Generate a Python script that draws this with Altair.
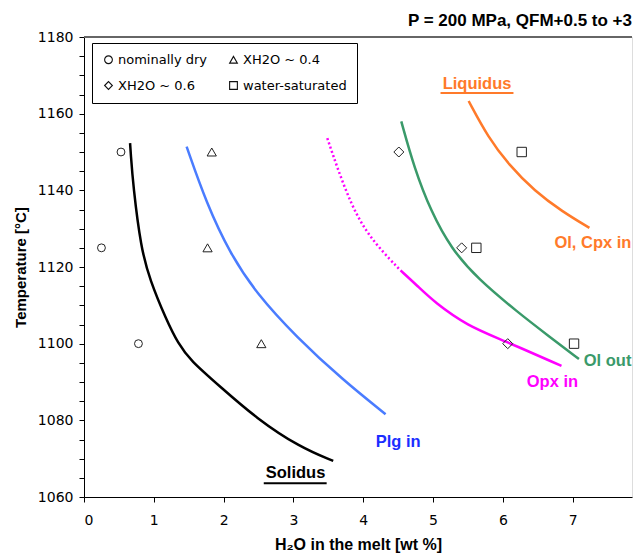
import altair as alt
import pandas as pd

# ---------------- data ----------------
title_text = "P = 200 MPa, QFM+0.5 to +3"

liq_x = [5.51, 5.79, 6.08, 6.46, 6.85, 7.24]
liq_t = [1163.3, 1153.8, 1146.8, 1139.7, 1134.5, 1130.2]

olout_x = [4.545, 4.73, 4.97, 5.26, 5.64, 6.22, 6.655, 7.09]
olout_t = [1158.0, 1145.9, 1134.5, 1124.8, 1116.9, 1108.1, 1102.0, 1096.0]

opx_dot_x = [3.485, 3.76, 4.05, 4.535]
opx_dot_t = [1153.6, 1138.9, 1128.3, 1119.1]
opx_x = [4.535, 4.775, 5.02, 5.50, 5.98, 6.84]
opx_t = [1119.1, 1115.1, 1110.8, 1104.6, 1101.1, 1094.2]

plg_x = [1.47, 1.755, 2.09, 2.47, 3.04, 3.71, 4.32]
plg_t = [1151.4, 1136.6, 1123.6, 1113.1, 1101.8, 1090.5, 1081.6]

sol_x = [0.66, 0.668, 0.705, 0.815, 0.944, 1.18, 1.35, 1.52, 1.95, 2.47, 3.09, 3.57]
sol_t = [1152.3, 1150.0, 1141.0, 1125.0, 1116.6, 1106.2, 1100.0, 1095.7, 1088.8, 1080.5, 1073.0, 1069.4]

series_names = ["nominally dry", "XH2O ~ 0.4", "XH2O ~ 0.6", "water-saturated"]
series_shapes = ["circle", "triangle-up", "diamond", "square"]
series_sizes = [62, 85, 100, 88]
pt_series = ["nominally dry"] * 3 + ["XH2O ~ 0.4"] * 3 + ["XH2O ~ 0.6"] * 3 + ["water-saturated"] * 3
pt_x = [0.53, 0.25, 0.78, 1.83, 1.77, 2.54, 4.51, 5.41, 6.07, 6.27, 5.62, 7.02]
pt_t = [1150, 1125, 1100, 1150, 1125, 1100, 1150, 1125, 1100, 1150, 1125, 1100]

lab_text = ["Liquidus", "Ol, Cpx in", "Ol out", "Opx in", "Plg in", "Solidus"]
lab_x = [5.63, 7.29, 7.50, 6.71, 4.50, 3.03]
lab_t = [1167.8, 1126.3, 1095.6, 1090.1, 1074.4, 1066.3]
lab_color = ["#FF7A2A", "#FF7A2A", "#3A9A6A", "#FF00FF", "#1A2EFF", "#000000"]

ul_x = [5.107, 2.575]
ul_x2 = [6.152, 3.476]
ul_t = [1165.4, 1063.6]
ul_color = ["#FF7A2A", "#000000"]

W, H = 548, 460
xscale = alt.Scale(domain=[0, 7.85], nice=False, zero=False)
yscale = alt.Scale(domain=[1060, 1180], nice=False, zero=False)

xaxis = alt.Axis(values=list(range(0, 8)), title="H₂O in the melt [wt %]", grid=False,
                 tickSize=5, labelPadding=11, labelFont="DejaVu Sans", labelFontSize=14,
                 labelColor="black", titleFont="Liberation Sans", titleFontSize=16,
                 titleFontWeight="bold", titleColor="black", titlePadding=9,
                 domainColor="black", tickColor="black")
yaxis = alt.Axis(values=list(range(1060, 1181, 5)), title="Temperature [°C]", grid=False,
                 format="d",
                 labelExpr="datum.value % 20 == 0 ? datum.label : ''",
                 tickSize=5, labelPadding=6, labelFont="DejaVu Sans", labelFontSize=14,
                 labelColor="black", titleFont="Liberation Sans", titleFontSize=15,
                 titleFontWeight="bold", titleColor="black", titlePadding=9,
                 domainColor="black", tickColor="black")

X = lambda f="x": alt.X(f"{f}:Q", scale=xscale, axis=xaxis)
Y = lambda f="t": alt.Y(f"{f}:Q", scale=yscale, axis=yaxis)


def curve(xs, ts, color, dash=None):
    df = pd.DataFrame({"x": xs, "t": ts})
    kw = dict(color=color, strokeWidth=2.5, interpolate="basis", clip=True)
    if dash:
        kw["strokeDash"] = dash
    return alt.Chart(df).mark_line(**kw).encode(x=X(), y=Y(), order="x:Q")


frame = alt.Chart(pd.DataFrame({"a": [0]})).mark_rule(color="#666666", strokeWidth=2).encode(
    x=alt.value(0), x2=alt.value(W), y=alt.value(0)
)

title = alt.Chart(pd.DataFrame({"a": [0]})).mark_text(
    font="Liberation Sans", fontSize=17, fontWeight="bold", color="black",
    align="right", baseline="alphabetic"
).encode(x=alt.value(W), y=alt.value(-11), text=alt.value(title_text))

layers = [
    curve(sol_x, sol_t, "#000000"),
    curve(plg_x, plg_t, "#4A7CFF"),
    curve(opx_dot_x, opx_dot_t, "#FF00FF", dash=[2, 2.5]),
    curve(opx_x, opx_t, "#FF00FF"),
    curve(olout_x, olout_t, "#3A9A6A"),
    curve(liq_x, liq_t, "#FF7A2A"),
]

legend = alt.Legend(title=None, orient="none", legendX=8, legendY=6,
                    columns=2, direction="horizontal",
                    fillColor="white", strokeColor="black",
                    padding=10, rowPadding=12, columnPadding=19,
                    symbolSize=60, symbolStrokeColor="#111111",
                    symbolFillColor="white", symbolStrokeWidth=1.1,
                    labelFont="DejaVu Sans", labelFontSize=13,
                    labelColor="black", labelOffset=3, labelLimit=0)
shape_scale = alt.Scale(domain=series_names, range=series_shapes)

pts = pd.DataFrame({"series": pt_series, "x": pt_x, "t": pt_t})
marker_layers = []
for name, size in zip(series_names, series_sizes):
    marker_layers.append(
        alt.Chart(pts[pts["series"] == name]).mark_point(
            filled=False, color="#222222", strokeWidth=1, opacity=1, size=size
        ).encode(x=X(), y=Y(), shape=alt.Shape("series:N", scale=shape_scale, legend=legend))
    )

labs = pd.DataFrame({"text": lab_text, "x": lab_x, "t": lab_t, "c": lab_color})
labels = alt.Chart(labs).mark_text(font="Liberation Sans", fontSize=16.5, fontWeight="bold",
                                   align="center", baseline="middle").encode(
    x=X(), y=Y(),
    text="text:N",
    color=alt.Color("c:N", scale=None),
)

uls = pd.DataFrame({"x": ul_x, "x2": ul_x2, "t": ul_t, "c": ul_color})
underlines = alt.Chart(uls).mark_rule(strokeWidth=2).encode(
    x=X(), x2="x2:Q", y=Y(),
    color=alt.Color("c:N", scale=None),
)

chart = alt.layer(*layers, *marker_layers, labels, underlines, frame, title).properties(
    width=W, height=H,
    autosize=alt.AutoSizeParams(type="none"),
    padding={"left": 76, "top": 29, "right": 2, "bottom": 58},
).configure_view(strokeWidth=0).configure(background="white")

chart.save("out.html", embed_options={"renderer": "svg", "actions": False})
